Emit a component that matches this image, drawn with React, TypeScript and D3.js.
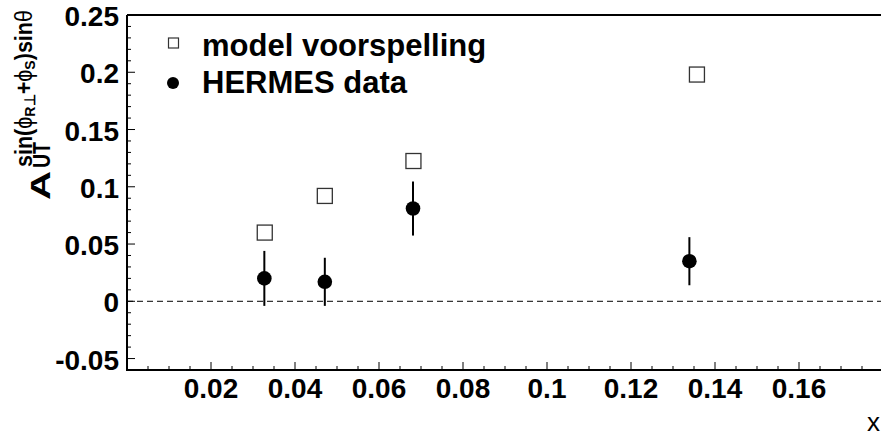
import React from "react";
import * as d3 from "d3";

const hermesX = [0.0327, 0.0471, 0.0681, 0.1339];
const hermesY = [0.020, 0.017, 0.081, 0.035];
const hermesErr = [0.024, 0.021, 0.0236, 0.021];
const modelX = [0.0328, 0.0471, 0.0682, 0.1357];
const modelY = [0.060, 0.092, 0.1225, 0.198];
const xTicks = [0.02, 0.04, 0.06, 0.08, 0.1, 0.12, 0.14, 0.16];
const yTicks = [-0.05, 0, 0.05, 0.1, 0.15, 0.2, 0.25];
const legendLabels = ["model voorspelling", "HERMES data"];

const W = 881;
const H = 436;
const FONT = "'Liberation Sans', Arial, Helvetica, sans-serif";
const fmt = (v: number) => d3.format("~g")(v).replace("\u2212", "-");

export default function App() {
  const x = d3.scaleLinear().domain([0, 0.18]).range([127, 883]);
  const y = d3.scaleLinear().domain([-0.06, 0.25]).range([370, 15]);
  const xMinor = d3.range(0.005, 0.18, 0.005).filter((v) => !xTicks.some((t) => Math.abs(t - v) < 1e-6));
  const yMinor = d3.range(-0.06, 0.2501, 0.01).filter((v) => !yTicks.some((t) => Math.abs(t - v) < 1e-6));
  const [x0] = x.range();
  const [yb, yt] = y.range();

  return (
    <svg width={W} height={H} style={{ position: "absolute", left: 0, top: 0, background: "#fff" }} fontFamily={FONT}>
      {/* zero dashed line */}
      <line x1={x0} x2={W} y1={y(0)} y2={y(0)} stroke="#000" strokeWidth={1} strokeDasharray="6,4" />
      {/* frame */}
      <line x1={x0} x2={W} y1={yt} y2={yt} stroke="#000" strokeWidth={2} />
      <line x1={x0} x2={W} y1={yb} y2={yb} stroke="#000" strokeWidth={2} />
      <line x1={x0} x2={x0} y1={yt} y2={yb + 1} stroke="#000" strokeWidth={2} />
      {/* x ticks */}
      {xTicks.map((t) => (
        <g key={"xt" + t}>
          <line x1={x(t)} x2={x(t)} y1={yb} y2={yb - 8} stroke="#000" strokeWidth={1} />
          <text x={x(t)} y={398} textAnchor="middle" fontSize={28} fontWeight="bold">
            {fmt(t)}
          </text>
        </g>
      ))}
      {xMinor.map((t, i) => (
        <line key={"xm" + i} x1={x(t)} x2={x(t)} y1={yb} y2={yb - 4} stroke="#000" strokeWidth={1} />
      ))}
      {/* y ticks */}
      {yTicks.map((t) => (
        <g key={"yt" + t}>
          <line x1={x0} x2={x0 + 8} y1={y(t)} y2={y(t)} stroke="#000" strokeWidth={1} />
          <text x={119} y={y(t) + 11} textAnchor="end" fontSize={28} fontWeight="bold">
            {fmt(t)}
          </text>
        </g>
      ))}
      {yMinor.map((t, i) => (
        <line key={"ym" + i} x1={x0} x2={x0 + 4} y1={y(t)} y2={y(t)} stroke="#000" strokeWidth={1} />
      ))}
      {/* x label */}
      <text x={880} y={431} textAnchor="end" fontSize={26}>x</text>
      {/* y title */}
      <g transform="translate(50,200) rotate(-90)">
        <text x={0} y={0} fontSize={28} fontWeight="bold" textLength={29} lengthAdjust="spacingAndGlyphs">A</text>
        <text x={32} y={0} fontSize={23} fontWeight="bold" textLength={26} lengthAdjust="spacingAndGlyphs">UT</text>
        <text x={33} y={-18} fontSize={23} fontWeight="bold" textLength={157} lengthAdjust="spacingAndGlyphs">
          sin(
          <tspan fontWeight="normal">ϕ</tspan>
          <tspan fontSize={15} dy={3}>R⊥</tspan>
          <tspan dy={-3}>+</tspan>
          <tspan fontWeight="normal">ϕ</tspan>
          <tspan fontSize={15} dy={3}>S</tspan>
          <tspan dy={-3}>)sin</tspan>
          <tspan fontWeight="normal">θ</tspan>
        </text>
      </g>
      {/* error bars */}
      {hermesX.map((v, i) => (
        <line key={"eb" + i} x1={x(v)} x2={x(v)} y1={y(hermesY[i] - hermesErr[i])} y2={y(hermesY[i] + hermesErr[i])} stroke="#000" strokeWidth={2} />
      ))}
      {hermesX.map((v, i) => (
        <circle key={"c" + i} cx={x(v)} cy={y(hermesY[i])} r={7.3} fill="#000" />
      ))}
      {modelX.map((v, i) => (
        <rect key={"m" + i} x={x(v) - 7.5} y={y(modelY[i]) - 7.5} width={15} height={15} fill="#fff" stroke="#333" strokeWidth={1.3} />
      ))}
      {/* legend */}
      <rect x={168.5} y={38} width={10} height={10} fill="#fff" stroke="#333" strokeWidth={1.2} />
      <text x={202} y={56} fontSize={31} fontWeight="bold">{legendLabels[0]}</text>
      <circle cx={173} cy={83} r={6} fill="#000" />
      <text x={202} y={93} fontSize={31} fontWeight="bold">{legendLabels[1]}</text>
    </svg>
  );
}
